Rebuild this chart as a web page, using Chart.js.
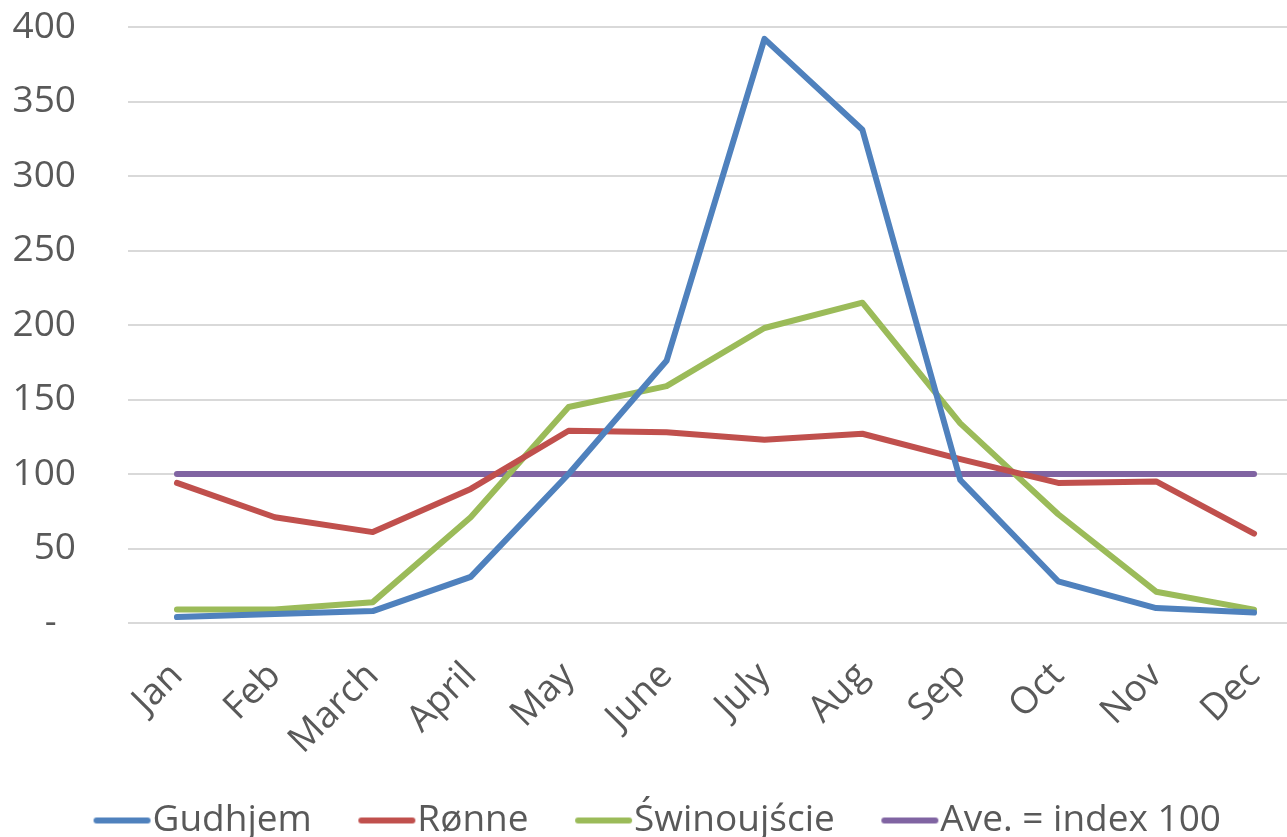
<!DOCTYPE html>
<html>
<head>
<meta charset="utf-8">
<script src="https://cdn.jsdelivr.net/npm/chart.js@4"></script>
<style>
  html, body { margin: 0; padding: 0; background: #fff; overflow: hidden; }
  #wrap { position: absolute; left: 0; top: 0; width: 1310px; height: 837px; }
</style>
</head>
<body>
<div id="wrap"><canvas id="lineChart"></canvas></div>
<script>
// 월 이름
var months = ['Jan', 'Feb', 'March', 'April', 'May', 'June', 'July', 'Aug', 'Sep', 'Oct', 'Nov', 'Dec'];

// 시리즈 값
var gudhjem = [4, 6, 8, 31, 100, 176, 392, 331, 96, 28, 10, 7];
var ronne = [94, 71, 61, 90, 129, 128, 123, 127, 110, 94, 95, 60];
var swinoujscie = [9, 9, 14, 71, 145, 159, 198, 215, 134, 73, 21, 9];
var average = [100, 100, 100, 100, 100, 100, 100, 100, 100, 100, 100, 100];

var seriesNames = ['Gudhjem', 'Rønne', 'Świnoujście', 'Ave. = index 100'];
var seriesColors = ['#4F81BD', '#C0504D', '#9BBB59', '#8064A2'];

var textColor = '#595959';
var fontFamily = '"Open Sans", "DejaVu Sans", sans-serif';
var fontSize = 37;

// 범례용 선 모양 (텍스트에 붙도록 그림)
function legendLine(color) {
	var c = document.createElement('canvas');
	c.width = 77;
	c.height = 8;
	var g = c.getContext('2d');
	g.strokeStyle = color;
	g.lineWidth = 6;
	g.lineCap = 'round';
	g.beginPath();
	g.moveTo(21, 4);
	g.lineTo(72, 4);
	g.stroke();
	return c;
}

function makeSet(i, values) {
	return {
		label : seriesNames[i],
		data : values,
		borderColor : seriesColors[i],
		backgroundColor : seriesColors[i],
		borderWidth : 6,
		borderCapStyle : 'round',
		borderJoinStyle : 'round',
		pointRadius : 0,
		pointHoverRadius : 0,
		pointStyle : legendLine(seriesColors[i]),
		tension : 0
	};
}

var ctx = document.getElementById('lineChart').getContext('2d');
var lineChart = new Chart(ctx, {
	type : 'line',
	data : {
		labels : months,
		datasets : [
			makeSet(0, gudhjem),
			makeSet(1, ronne),
			makeSet(2, swinoujscie),
			makeSet(3, average)
		]
	},
	options : {
		responsive : true,
		maintainAspectRatio : false,
		animation : false,
		layout : {
			padding : { left : 12, right : 7, top : 27, bottom : -12 }
		},
		scales : {
			x : {
				offset : true,
				grid : { display : false, drawTicks : false },
				border : { display : false },
				ticks : {
					color : textColor,
					font : { family : fontFamily, size : fontSize },
					minRotation : 45,
					maxRotation : 45,
					padding : 31,
					autoSkip : false
				},
				afterFit : function(scale) {
					scale.paddingLeft = 0;
					scale.paddingRight = 0;
					scale.height = 132;
				}
			},
			y : {
				min : 0,
				max : 400,
				grid : { color : '#D9D9D9', lineWidth : 2, drawTicks : false },
				border : { display : false },
				ticks : {
					stepSize : 50,
					color : textColor,
					font : { family : fontFamily, size : fontSize },
					padding : 52,
					callback : function(value) {
						return value === 0 ? '-  ' : value;
					}
				},
				afterFit : function(scale) {
					scale.width = 116;
					scale.paddingTop = 0;
					scale.paddingBottom = 0;
				}
			}
		},
		plugins : {
			legend : {
				position : 'bottom',
				labels : {
					usePointStyle : true,
					pointStyleWidth : 40,
					color : textColor,
					font : { family : fontFamily, size : fontSize },
					padding : 47
				}
			},
			tooltip : { enabled : false }
		}
	}
});
</script>
</body>
</html>
